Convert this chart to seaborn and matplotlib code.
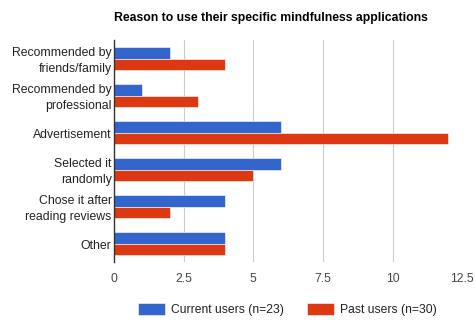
import pandas as pd
import seaborn as sns
import matplotlib.pyplot as plt

categories = ["Recommended by\nfriends/family", "Recommended by\nprofessional", "Advertisement",
              "Selected it\nrandomly", "Chose it after\nreading reviews", "Other"]
current_users = [2, 1, 6, 6, 4, 4]
past_users = [4, 3, 12, 5, 2, 4]
series_names = ["Current users (n=23)", "Past users (n=30)"]
x_ticks = [0, 2.5, 5, 7.5, 10, 12.5]
x_tick_labels = ["0", "2.5", "5", "7.5", "10", "12.5"]

df = pd.DataFrame({
    "reason": categories * 2,
    "count": current_users + past_users,
    "group": [series_names[0]] * len(categories) + [series_names[1]] * len(categories),
})

sns.set_style("white")
plt.rcParams["font.family"] = ["Liberation Sans", "DejaVu Sans"]

fig = plt.figure(figsize=(4.75, 3.2), dpi=100)
ax = fig.add_axes([0.24, 0.181, 0.733, 0.694])
sns.barplot(data=df, y="reason", x="count", hue="group", orient="h",
            palette=["#3366CC", "#DC3912"], saturation=1, width=0.64,
            edgecolor="white", linewidth=0.4, ax=ax, zorder=3)

ax.set_xlim(0, 12.5)
ax.set_xticks(x_ticks)
ax.set_xticklabels(x_tick_labels, fontsize=8.7, color="#444444")
ax.set_yticks(range(len(categories)))
ax.set_yticklabels([""] * len(categories))
# category labels, right aligned line by line
for i, cat in enumerate(categories):
    ax.text(-0.007, i + 0.06, cat, transform=ax.get_yaxis_transform(), ha="right",
            va="center", multialignment="right", linespacing=1.45,
            fontsize=8.8, color="#222222")
ax.tick_params(axis="y", length=0, pad=2)
ax.tick_params(axis="x", length=0, pad=8)
ax.grid(axis="x", color="#cccccc", linewidth=0.8, zorder=0)
ax.set_xlabel("")
ax.set_ylabel("")
for s in ["top", "right", "bottom"]:
    ax.spines[s].set_visible(False)
ax.spines["left"].set_color("#333333")
ax.spines["left"].set_linewidth(1)
ax.spines["left"].set_zorder(4)

ax.set_title("Reason to use their specific mindfulness applications", fontsize=8.8,
             fontweight="bold", color="#000000", pad=14, loc="left")

ax.get_legend().remove()
handles, labels = ax.get_legend_handles_labels()
fig.legend(handles, labels, loc="center", bbox_to_anchor=(0.605, 0.032), ncol=2,
           frameon=False, fontsize=8.7, handlelength=2.2, handleheight=1.1,
           columnspacing=1.9, handletextpad=0.5, labelcolor="#222222")

fig.savefig("out.png", dpi=100)
